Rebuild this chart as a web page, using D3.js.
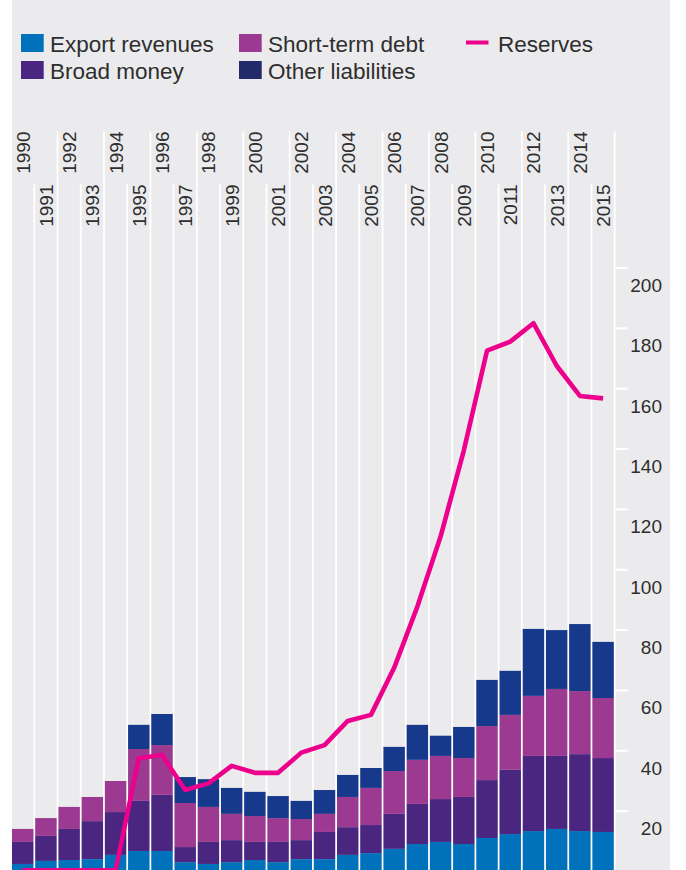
<!DOCTYPE html>
<html>
<head>
<meta charset="utf-8">
<script src="https://cdn.jsdelivr.net/npm/d3@7"></script>
<style>
  html, body { margin: 0; padding: 0; background: #ffffff; }
  svg { display: block; }
  text { font-family: "Liberation Sans", Arial, sans-serif; fill: #2e2e2e; }
</style>
</head>
<body>
<svg id="chart" width="686" height="870"></svg>
<script>
// ---- data ----
const years = [1990,1991,1992,1993,1994,1995,1996,1997,1998,1999,2000,2001,2002,2003,2004,2005,2006,2007,2008,2009,2010,2011,2012,2013,2014,2015];
const exportRevenues   = [2.5,3.5,3.8,4.1,5.5,6.8,6.8,3.1,2.5,3.1,3.8,3.1,4.1,4.1,5.5,6.1,7.5,9.1,9.8,9.1,11.1,12.4,13.4,14.1,13.4,13.1];
const broadMoney       = [7.3,8.3,10.3,12.6,14.2,16.6,18.6,5.0,7.3,7.3,6.0,6.7,6.3,9.0,9.2,9.3,11.6,13.3,14.2,15.6,19.2,21.3,24.9,24.2,25.5,24.5];
const shortTermDebt    = [4.3,5.9,7.3,8.0,10.3,17.2,16.5,14.6,11.6,8.7,8.6,7.9,7.0,6.0,10.0,12.3,14.2,14.6,14.3,12.9,17.9,18.2,19.9,22.2,20.9,19.9];
const otherLiabilities = [0,0,0,0,0,8.0,10.3,8.6,9.2,8.6,8.0,7.3,6.0,7.9,7.3,6.6,8.0,11.6,6.7,10.3,15.3,14.6,22.2,19.5,22.2,18.6];
const reserves         = [0.4,0.4,0.4,0.4,0.4,37.5,38.6,27.0,29.2,35.0,32.7,32.7,39.4,41.9,49.9,51.9,67.5,87.8,111.0,139.5,172.6,175.6,181.7,167.6,157.6,156.8];
const yTicks = [20,40,60,80,100,120,140,160,180,200];
const seriesKeys = ["Export revenues","Broad money","Short-term debt","Other liabilities"];
const legendLabels = ["Export revenues","Short-term debt","Reserves","Broad money","Other liabilities"];

// ---- styles ----
const barColors = {"Export revenues":"#0072bb","Broad money":"#4a2681","Short-term debt":"#9c3a92","Other liabilities":"#17398b"};
const legendColors = {"Export revenues":"#0072bb","Broad money":"#4a2681","Short-term debt":"#9c3a92","Other liabilities":"#222a69"};
const lineColor = "#ec008c";
const bg = "#ebebed";

const svg = d3.select("#chart");

// background panel
svg.append("rect").attr("x",12).attr("y",0).attr("width",658).attr("height",870).attr("fill",bg);

// scales
const x = d3.scaleBand().domain(years).range([12, 613.8]).paddingInner(0.077).paddingOuter(0);
const y = d3.scaleLinear().domain([0,200]).range([871.5, 268]);
const bw = x.bandwidth();
const gap = x.step() - bw;

// table for stacking
const table = years.map((yr,i) => ({
  year: yr,
  "Export revenues": exportRevenues[i],
  "Broad money": broadMoney[i],
  "Short-term debt": shortTermDebt[i],
  "Other liabilities": otherLiabilities[i]
}));
const stacked = d3.stack().keys(seriesKeys)(table);

// white column separators (extend up to the year labels)
const sepData = years.map((yr,i) => ({yr, xpos: x(yr) - gap/2})).slice(1);
sepData.push({yr: years[years.length-1]+1, xpos: x(years[years.length-1]) + bw + gap/2});
svg.append("g").selectAll("line").data(sepData).join("line")
  .attr("x1", d => d.xpos).attr("x2", d => d.xpos)
  .attr("y1", d => d.yr % 2 === 0 ? 131.5 : 184)
  .attr("y2", 880)
  .attr("stroke", "#ffffff").attr("stroke-width", gap);

// year labels
svg.append("g").selectAll("text").data(years).join("text")
  .attr("transform", d => `translate(${x(d) + bw/2 + 0.5},${d % 2 === 0 ? 131.5 : 184.5}) rotate(-90)`)
  .attr("text-anchor","end")
  .attr("dominant-baseline","central")
  .style("font-size","19px")
  .text(d => d);

// bars
svg.append("g").selectAll("g").data(stacked).join("g")
  .attr("fill", d => barColors[d.key])
  .selectAll("rect").data(d => d).join("rect")
  .attr("x", d => x(d.data.year))
  .attr("width", bw)
  .attr("y", d => y(d[1]))
  .attr("height", d => Math.max(0, y(d[0]) - y(d[1])));

// right axis: ticks and labels
const axisX = x(years[years.length-1]) + bw + gap/2;
const yAxis = svg.append("g");
yAxis.selectAll("line").data(yTicks).join("line")
  .attr("x1", axisX).attr("x2", axisX + 13)
  .attr("y1", d => y(d)).attr("y2", d => y(d))
  .attr("stroke","#ffffff").attr("stroke-width",2);
yAxis.selectAll("text").data(yTicks).join("text")
  .attr("x", 662)
  .attr("y", d => y(d) + 17.5)
  .attr("text-anchor","end")
  .attr("dominant-baseline","central")
  .style("font-size","19px")
  .text(d => d);

// reserves line
const line = d3.line()
  .x((d,i) => x(years[i]) + bw/2)
  .y(d => y(d));
svg.append("path").datum(reserves)
  .attr("d", line)
  .attr("fill","none")
  .attr("stroke", lineColor)
  .attr("stroke-width", 4.6)
  .attr("stroke-linejoin","round");

// legend
const legendPos = [
  {x:21, y:34, type:"rect"},
  {x:239, y:34, type:"rect"},
  {x:466, y:34, type:"line"},
  {x:21, y:61, type:"rect"},
  {x:239, y:61, type:"rect"}
];
const leg = svg.append("g").selectAll("g").data(legendLabels).join("g")
  .attr("transform", (d,i) => `translate(${legendPos[i].x},${legendPos[i].y})`);
leg.each(function(d,i){
  const g = d3.select(this);
  if (legendPos[i].type === "rect") {
    g.append("rect").attr("x",0).attr("y",0).attr("width",22.7).attr("height",18).attr("fill",legendColors[d]);
    g.append("text").attr("x",29).attr("y",17.7).style("font-size","22.5px").text(d);
  } else {
    g.append("line").attr("x1",0).attr("x2",22.5).attr("y1",8.5).attr("y2",8.5)
      .attr("stroke",lineColor).attr("stroke-width",4);
    g.append("text").attr("x",32).attr("y",17.7).style("font-size","22.5px").text(d);
  }
});
</script>
</body>
</html>
